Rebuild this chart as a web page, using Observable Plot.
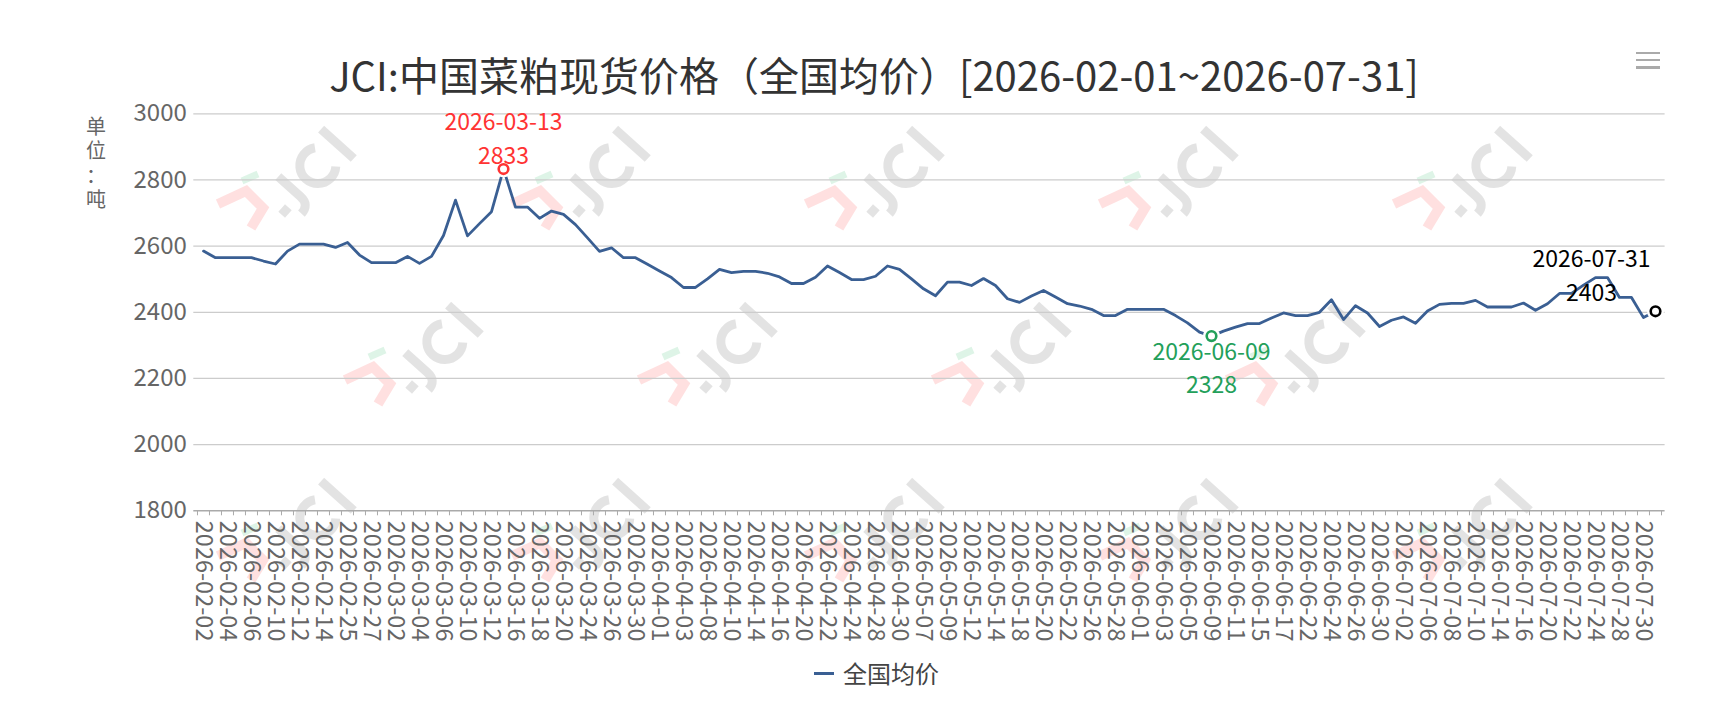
<!DOCTYPE html>
<html>
<head>
<meta charset="utf-8">
<script src="https://cdn.jsdelivr.net/npm/d3@7"></script>
<script src="https://cdn.jsdelivr.net/npm/@observablehq/plot@0.6"></script>
<style>
  html, body { margin: 0; padding: 0; background: #fff; }
  body { width: 1718px; height: 724px; position: relative; overflow: hidden;
         font-family: "Noto Sans CJK SC", "Noto Sans", sans-serif; }
  #wm { position: absolute; left: 0; top: 0; z-index: 0; }
  #page { position: relative; z-index: 1; }
  #title { position: relative; height: 100px; }
  #title .t { position: absolute; left: 874px; transform: translateX(-50%); top: 48.5px;
              font-size: 40px; line-height: 50px; color: #333; white-space: nowrap; }
  .menu { position: absolute; left: 1636px; width: 24px; height: 2.7px; background: #aaa; }
  #ytitle { position: absolute; left: 86px; top: 113.5px; width: 20px; font-size: 20px; line-height: 24.5px;
            text-align: center; color: #666; line-break: anywhere; word-break: break-all; }
  #legend { position: relative; height: 64px; }
  #legend .sw { position: absolute; left: 814px; top: 11.5px; width: 20px; height: 3px; background: #3a5f93; }
  #legend .lt { position: absolute; left: 843px; top: -2px; font-size: 24px; line-height: 30px; color: #444; white-space: nowrap; }
</style>
</head>
<body>
<svg id="wm" width="1718" height="724"></svg>
<div id="page">
  <div id="title">
    <div class="t">JCI:中国菜粕现货价格（全国均价）[2026-02-01~2026-07-31]</div>
    <div class="menu" style="top:51.5px"></div>
    <div class="menu" style="top:58.5px"></div>
    <div class="menu" style="top:66px"></div>
  </div>
  <div id="chart"></div>
  <div id="legend"><span class="sw"></span><span class="lt">全国均价</span></div>
  <div id="ytitle">单位：吨</div>
</div>
<script>
// ---------- data ----------
const dates = [
  "2026-02-02","2026-02-03","2026-02-04","2026-02-05","2026-02-06","2026-02-09","2026-02-10","2026-02-11","2026-02-12","2026-02-13",
  "2026-02-14","2026-02-24","2026-02-25","2026-02-26","2026-02-27","2026-02-28","2026-03-02","2026-03-03","2026-03-04","2026-03-05",
  "2026-03-06","2026-03-09","2026-03-10","2026-03-11","2026-03-12","2026-03-13","2026-03-16","2026-03-17","2026-03-18","2026-03-19",
  "2026-03-20","2026-03-23","2026-03-24","2026-03-25","2026-03-26","2026-03-27","2026-03-30","2026-03-31","2026-04-01","2026-04-02",
  "2026-04-03","2026-04-07","2026-04-08","2026-04-09","2026-04-10","2026-04-13","2026-04-14","2026-04-15","2026-04-16","2026-04-17",
  "2026-04-20","2026-04-21","2026-04-22","2026-04-23","2026-04-24","2026-04-27","2026-04-28","2026-04-29","2026-04-30","2026-05-06",
  "2026-05-07","2026-05-08","2026-05-09","2026-05-11","2026-05-12","2026-05-13","2026-05-14","2026-05-15","2026-05-18","2026-05-19",
  "2026-05-20","2026-05-21","2026-05-22","2026-05-25","2026-05-26","2026-05-27","2026-05-28","2026-05-29","2026-06-01","2026-06-02",
  "2026-06-03","2026-06-04","2026-06-05","2026-06-08","2026-06-09","2026-06-10","2026-06-11","2026-06-12","2026-06-15","2026-06-16",
  "2026-06-17","2026-06-18","2026-06-22","2026-06-23","2026-06-24","2026-06-25","2026-06-26","2026-06-29","2026-06-30","2026-07-01",
  "2026-07-02","2026-07-03","2026-07-06","2026-07-07","2026-07-08","2026-07-09","2026-07-10","2026-07-13","2026-07-14","2026-07-15",
  "2026-07-16","2026-07-17","2026-07-20","2026-07-21","2026-07-22","2026-07-23","2026-07-24","2026-07-27","2026-07-28","2026-07-29",
  "2026-07-30","2026-07-31"
];
const prices = [
  2585,2565,2565,2565,2565,2555,2546,2585,2606,2606,
  2606,2596,2611,2573,2550,2550,2550,2569,2548,2569,
  2632,2739,2631,2668,2704,2833,2718,2718,2684,2706,
  2696,2665,2625,2584,2595,2565,2565,2545,2525,2505,
  2475,2475,2501,2530,2520,2524,2524,2518,2507,2487,
  2487,2506,2540,2520,2499,2499,2509,2540,2530,2501,
  2471,2450,2491,2491,2481,2502,2481,2441,2430,2449,
  2466,2446,2426,2419,2409,2390,2390,2409,2409,2409,
  2409,2390,2368,2340,2328,2343,2355,2366,2366,2383,
  2398,2390,2390,2400,2438,2378,2420,2398,2357,2376,
  2386,2367,2404,2424,2427,2427,2436,2416,2416,2416,
  2428,2406,2426,2457,2457,2482,2505,2505,2445,2445,
  2384,2403
];
const yTicks = [1800, 2000, 2200, 2400, 2600, 2800, 3000];
const seriesName = "全国均价";

// ---------- derived ----------
const rows = dates.map((d, i) => ({date: d, price: prices[i]}));
const labelDates = dates.filter((d, i) => i % 2 === 0);
const maxRow = [rows[d3.maxIndex(prices)]];
const minRow = [rows[d3.minIndex(prices)]];
const lastRow = [rows[rows.length - 1]];

const FONT = "'Noto Sans CJK SC', 'Noto Sans', sans-serif";
const LINE = "#3a5f93";
const W = 1718, H = 560;
const mL = 193.3, mR = 53.4, mT = 13.3, mB = 149.7;
const step = (W - mL - mR) / dates.length;

// two-line point label: date above value
function pointLabel(data, fill, dx, dyDate, dyValue) {
  const common = {x: "date", y: "price", fill, fontSize: 23, lineAnchor: "bottom", dx};
  return [
    Plot.text(data, {...common, text: "date", dy: dyDate}),
    Plot.text(data, {...common, text: d => String(d.price), dy: dyValue})
  ];
}

const chart = Plot.plot({
  width: W, height: H,
  marginLeft: mL, marginRight: mR, marginTop: mT, marginBottom: mB,
  style: {background: "transparent", fontFamily: FONT, overflow: "visible"},
  x: {type: "point", domain: dates, padding: 0.5, axis: null},
  y: {domain: [yTicks[0], yTicks[yTicks.length - 1]]},
  marks: [
    Plot.gridY({ticks: yTicks.slice(1), stroke: "#ccc", strokeOpacity: 1, strokeWidth: 1.3}),
    Plot.axisY({ticks: yTicks, tickSize: 0, tickPadding: 7, tickFormat: "d", fontSize: 24, color: "#666", label: null}),
    Plot.ruleY([yTicks[0]], {stroke: "#aaa", strokeWidth: 1.6}),
    Plot.ruleX(dates, {x: d => d, y1: yTicks[0], y2: yTicks[0], dx: -step / 2, insetBottom: -5, stroke: "#aaa", strokeWidth: 1}),
    Plot.ruleX(dates.slice(-1), {x: d => d, y1: yTicks[0], y2: yTicks[0], dx: step / 2, insetBottom: -5, stroke: "#aaa", strokeWidth: 1}),
    Plot.text(labelDates, {x: d => d, text: d => d, frameAnchor: "bottom", rotate: 90, textAnchor: "start",
      lineAnchor: "middle", dy: 10, fontSize: 23.5, fill: "#666"}),
    Plot.line(rows, {x: "date", y: "price", stroke: LINE, strokeWidth: 2.8}),
    // marker halos + rings
    Plot.dot([...maxRow, ...minRow, ...lastRow], {x: "date", y: "price", r: 8.5, fill: "white", stroke: "none"}),
    Plot.dot(maxRow, {x: "date", y: "price", r: 4.8, fill: "white", stroke: "#f33", strokeWidth: 2.6}),
    Plot.dot(minRow, {x: "date", y: "price", r: 4.8, fill: "white", stroke: "#23a05a", strokeWidth: 2.6}),
    Plot.dot(lastRow, {x: "date", y: "price", r: 4.8, fill: "white", stroke: "#000", strokeWidth: 2.6}),
    // labels
    ...pointLabel(maxRow, "#f33", 0, -39.3, -5.5),
    ...pointLabel(minRow, "#23a05a", 0, 23.5, 57.3),
    ...pointLabel(lastRow, "#000", -64, -44, -10.2)
  ]
});
document.getElementById("chart").appendChild(chart);

// ---------- decorative watermark (logo drawn as shapes) ----------
(function () {
  const svg = d3.select("#wm");
  const colStep = 294, x0 = 312;
  const rowsWm = [{y: 172, x: x0, n: 5}, {y: 348, x: x0 + 127, n: 4}, {y: 524, x: x0, n: 5}];
  const gray = "rgba(0,0,0,0.11)";
  rowsWm.forEach(r => {
    for (let k = 0; k < r.n; k++) {
      const g = svg.append("g").attr("transform", `translate(${r.x + k * colStep},${r.y})`);
      g.append("path").attr("d", "M -94 32 L -66 19 L -49 36 L -61 56")
        .attr("fill", "none").attr("stroke", "rgba(255,70,70,0.17)").attr("stroke-width", 10)
        .attr("stroke-linejoin", "miter");
      g.append("path").attr("d", "M -70 9 L -54 2")
        .attr("fill", "none").attr("stroke", "rgba(60,190,110,0.17)").attr("stroke-width", 7);
      const logo = g.append("g").attr("transform", "rotate(-48)")
        .attr("fill", "none").attr("stroke", gray).attr("stroke-width", 9);
      logo.append("path").attr("d", "M -52 6 L -42 6");
      logo.append("path").attr("d", "M -26 -22 L -26 8 Q -26 20 -38 20");
      logo.append("path").attr("d", "M 20 -14 A 18 18 0 1 0 20 14");
      logo.append("path").attr("d", "M 38 -22 L 38 22");
    }
  });
})();
</script>
</body>
</html>
